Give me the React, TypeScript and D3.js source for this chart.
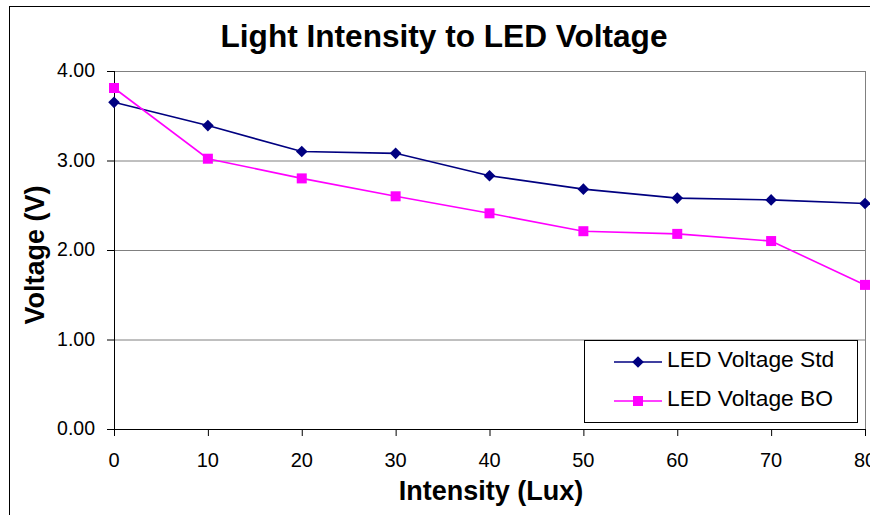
import React from "react";
import * as d3 from "d3";

const intensity = [0, 10, 20, 30, 40, 50, 60, 70, 80];
const voltageStd = [3.65, 3.39, 3.1, 3.08, 2.83, 2.68, 2.58, 2.56, 2.52];
const voltageBO = [3.81, 3.02, 2.8, 2.6, 2.41, 2.21, 2.18, 2.1, 1.61];
const yTicks = [0, 1, 2, 3, 4];
const xTicks = [0, 10, 20, 30, 40, 50, 60, 70, 80];
const seriesNames = ["LED Voltage Std", "LED Voltage BO"];

const W = 870;
const H = 515;
const font = "Arial, 'Liberation Sans', Helvetica, sans-serif";

export default function App() {
  const x = d3.scaleLinear().domain([0, 80]).range([114, 865]);
  const y = d3.scaleLinear().domain([0, 4]).range([429, 71]);
  const line = d3
    .line<number>()
    .x((_, i) => x(intensity[i]))
    .y((d) => y(d));
  const navy = "#000080";
  const mag = "#FF00FF";
  const diamond = (cx: number, cy: number, r = 5.8) =>
    `M${cx},${cy - r}L${cx + r},${cy}L${cx},${cy + r}L${cx - r},${cy}Z`;
  const sq = 5;

  return (
    <svg
      width={W}
      height={H}
      style={{ position: "absolute", left: 0, top: 0, background: "#fff" }}
    >
      <rect x={0} y={0} width={W} height={H} fill="#fff" />
      <rect x={9.5} y={6.5} width={900} height={600} fill="none" stroke="#000" strokeWidth={1} />
      <text x={444} y={47} textAnchor="middle" fontFamily={font} fontWeight="bold" fontSize={31.6}>
        Light Intensity to LED Voltage
      </text>
      {/* gridlines */}
      {yTicks.filter((t) => t > 0).map((t) => (
        <line key={t} x1={x(0)} x2={x(80)} y1={y(t) + 0.5} y2={y(t) + 0.5} stroke="#808080" strokeWidth={1} />
      ))}
      {/* plot right border */}
      <line x1={x(80) + 0.5} x2={x(80) + 0.5} y1={y(4)} y2={y(0)} stroke="#808080" />
      {/* axes */}
      <line x1={x(0) + 0.5} x2={x(0) + 0.5} y1={y(4)} y2={y(0)} stroke="#000" />
      <line x1={x(0)} x2={x(80) + 1} y1={y(0) + 0.5} y2={y(0) + 0.5} stroke="#000" />
      {yTicks.map((t) => (
        <g key={t}>
          <line x1={x(0) - 7} x2={x(0)} y1={y(t) + 0.5} y2={y(t) + 0.5} stroke="#000" />
          <text x={95} y={y(t) + 6} textAnchor="end" fontFamily={font} fontSize={19.5}>
            {t.toFixed(2)}
          </text>
        </g>
      ))}
      {xTicks.map((t) => (
        <g key={t}>
          <line x1={x(t) + 0.5} x2={x(t) + 0.5} y1={y(0)} y2={y(0) + 7} stroke="#000" />
          <text x={x(t)} y={467} textAnchor="middle" fontFamily={font} fontSize={20}>
            {t}
          </text>
        </g>
      ))}
      <text x={491} y={500} textAnchor="middle" fontFamily={font} fontWeight="bold" fontSize={27}>
        Intensity (Lux)
      </text>
      <text
        transform={`translate(44,255) rotate(-90)`}
        textAnchor="middle"
        fontFamily={font}
        fontWeight="bold"
        fontSize={27}
      >
        Voltage (V)
      </text>
      {/* series */}
      <path d={line(voltageStd) || ""} fill="none" stroke={navy} strokeWidth={1.6} />
      <path d={line(voltageBO) || ""} fill="none" stroke={mag} strokeWidth={1.6} />
      {voltageStd.map((v, i) => (
        <path key={"s" + i} d={diamond(x(intensity[i]), y(v))} fill={navy} />
      ))}
      {voltageBO.map((v, i) => (
        <rect key={"b" + i} x={x(intensity[i]) - sq} y={y(v) - sq} width={sq * 2} height={sq * 2} fill={mag} />
      ))}
      {/* legend */}
      <rect x={584.5} y={340.5} width={273} height={82} fill="#fff" stroke="#000" />
      <line x1={614} x2={662} y1={362} y2={362} stroke={navy} strokeWidth={1.6} />
      <path d={diamond(638, 362)} fill={navy} />
      <text x={667} y={367} fontFamily={font} fontSize={22.8}>
        {seriesNames[0]}
      </text>
      <line x1={614} x2={662} y1={401} y2={401} stroke={mag} strokeWidth={1.6} />
      <rect x={638 - sq} y={401 - sq} width={sq * 2} height={sq * 2} fill={mag} />
      <text x={667} y={406} fontFamily={font} fontSize={22.8}>
        {seriesNames[1]}
      </text>
    </svg>
  );
}
